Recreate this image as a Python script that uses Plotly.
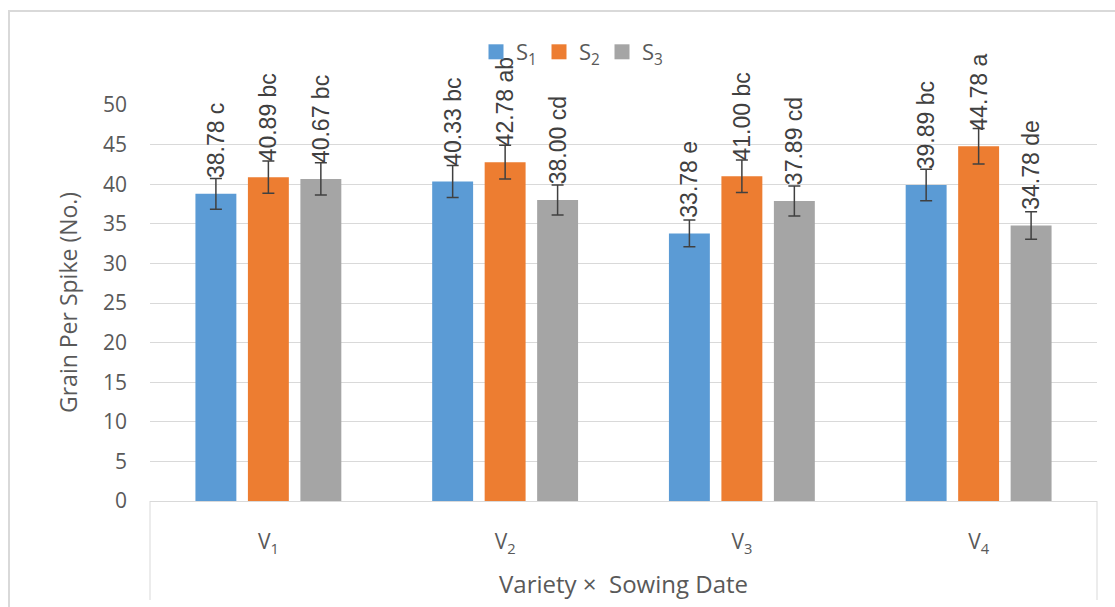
import plotly.graph_objects as go

# Grain per spike for each variety under three sowing dates
varieties = ["V<sub>1</sub>", "V<sub>2</sub>", "V<sub>3</sub>", "V<sub>4</sub>"]
series_names = ["S<sub>1</sub>", "S<sub>2</sub>", "S<sub>3</sub>"]
s1_values = [38.78, 40.33, 33.78, 39.89]
s2_values = [40.89, 42.78, 41.00, 44.78]
s3_values = [40.67, 38.00, 37.89, 34.78]
s1_letters = ["c", "bc", "e", "bc"]
s2_letters = ["bc", "ab", "bc", "a"]
s3_letters = ["bc", "cd", "cd", "de"]
error_percent = 5
y_ticks = [0, 5, 10, 15, 20, 25, 30, 35, 40, 45, 50]

colors = ["#5B9BD5", "#ED7D31", "#A5A5A5"]
text_gray = "#595959"
line_gray = "#D9D9D9"
tick_font = dict(family="Open Sans", size=21, color=text_gray)

W, H = 1115, 607
L, R, T, B = 150, 18, 105, 106
pw, ph = W - L - R, H - T - B


def px_x(x):
    return (x - L) / pw


def px_y(y):
    return (H - B - y) / ph


fig = go.Figure()
for name, vals, letters, col in zip(series_names,
                                    [s1_values, s2_values, s3_values],
                                    [s1_letters, s2_letters, s3_letters],
                                    colors):
    fig.add_trace(go.Bar(
        name=name,
        x=varieties,
        y=vals,
        showlegend=False,
        marker=dict(color=col, line=dict(width=0)),
        error_y=dict(type="percent", value=error_percent, color="#404040",
                     thickness=1.5, width=6),
        text=["\u00a0\u00a0" + f"{v:.2f} {lt}" for v, lt in zip(vals, letters)],
        textposition="outside",
        textangle=-90,
        constraintext="none",
        cliponaxis=False,
        textfont=dict(family="Liberation Sans", size=23, color="#404040"),
        hoverinfo="skip",
    ))

# legend keys with square swatches
for name, col in zip(series_names, colors):
    fig.add_trace(go.Scatter(
        name=name,
        x=[None], y=[None],
        mode="markers",
        marker=dict(symbol="square", size=15, color=col),
        showlegend=True,
        hoverinfo="skip",
    ))

fig.update_layout(
    width=W, height=H,
    margin=dict(l=L, r=R, t=T, b=B),
    paper_bgcolor="white",
    plot_bgcolor="white",
    barmode="group",
    bargap=0.335,
    bargroupgap=0.22,
    font=dict(family="Open Sans", color=text_gray),
    legend=dict(
        orientation="h",
        x=px_x(476), xanchor="left",
        y=px_y(52), yanchor="middle",
        font=dict(family="Open Sans", size=22, color=text_gray),
        bgcolor="rgba(0,0,0,0)",
        entrywidth=18,
        itemsizing="trace",
        itemclick=False, itemdoubleclick=False,
    ),
    xaxis=dict(
        type="category",
        tickfont=tick_font,
        ticklabelstandoff=22,
        showgrid=False,
        showline=True, linecolor=line_gray, linewidth=1,
        ticks="",
        fixedrange=True,
    ),
    yaxis=dict(
        range=[0, 50],
        tickvals=y_ticks,
        tickfont=tick_font,
        ticklabelstandoff=22,
        showgrid=True, gridcolor=line_gray, gridwidth=1,
        showline=False, zeroline=False,
        ticks="",
        fixedrange=True,
    ),
    annotations=[
        dict(text="Grain Per Spike (No.)", textangle=-90,
             x=px_x(68), y=0.5, xref="paper", yref="paper",
             xanchor="center", yanchor="middle", showarrow=False,
             font=dict(family="Open Sans", size=23, color=text_gray)),
        dict(text="Variety \u00d7  Sowing Date",
             x=0.5, y=px_y(583), xref="paper", yref="paper",
             xanchor="center", yanchor="middle", showarrow=False,
             font=dict(family="Open Sans", size=24, color=text_gray)),
    ],
    shapes=[
        # chart frame
        dict(type="rect", xref="paper", yref="paper",
             x0=px_x(9), y0=px_y(640), x1=px_x(1160), y1=px_y(11),
             line=dict(color=line_gray, width=2), layer="below"),
        # category band edges
        dict(type="line", xref="paper", yref="paper",
             x0=0, x1=0, y0=0, y1=px_y(600),
             line=dict(color=line_gray, width=1)),
        dict(type="line", xref="paper", yref="paper",
             x0=1, x1=1, y0=0, y1=px_y(600),
             line=dict(color=line_gray, width=1)),
    ],
)

fig.write_html("out.html", config={"displayModeBar": False})
